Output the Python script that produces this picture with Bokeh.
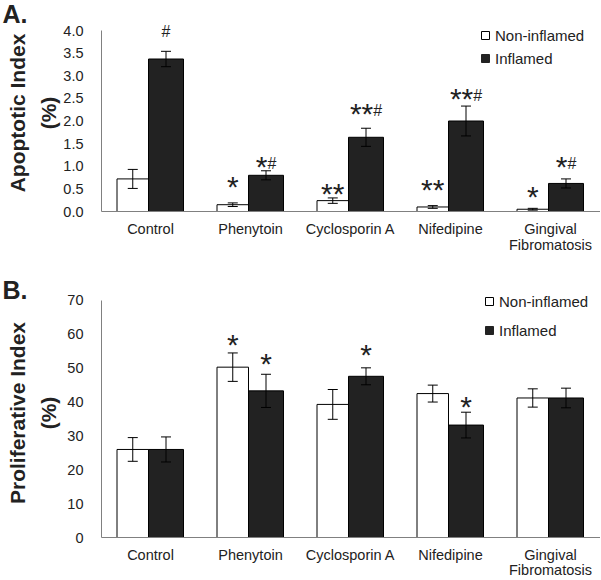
import numpy as np
from bokeh.plotting import figure
from bokeh.models import (Range1d, FixedTicker, Whisker, ColumnDataSource, Legend,
                          LegendItem, TeeHead, PrintfTickFormatter)
from bokeh.layouts import column
from bokeh.embed import file_html
from bokeh.resources import INLINE
from bokeh.core.properties import value

# ---------------- data ----------------
categories = ["Control", "Phenytoin", "Cyclosporin A", "Nifedipine", "Gingival\nFibromatosis"]
series = ["Non-inflamed", "Inflamed"]

# Panel A: apoptotic index (%)
apop_non = [0.72, 0.15, 0.24, 0.10, 0.05]
apop_non_err = [0.21, 0.04, 0.06, 0.03, 0.02]
apop_inf = [3.37, 0.80, 1.64, 2.00, 0.62]
apop_inf_err = [0.17, 0.10, 0.20, 0.33, 0.10]
apop_ticks = [0.0, 0.5, 1.0, 1.5, 2.0, 2.5, 3.0, 3.5, 4.0]
apop_sig_non = ["", "*", "**", "**", "*"]
apop_sig_non_y = [None, 0.62, 0.45, 0.55, 0.40]
apop_sig_inf = ["#", "*#", "**#", "**#", "*#"]
apop_sig_inf_y = [3.98, 1.06, 2.23, 2.56, 1.06]

# Panel B: proliferative index (%)
prolif_non = [26.0, 50.3, 39.3, 42.5, 41.2]
prolif_non_err = [3.5, 4.2, 4.4, 2.5, 2.7]
prolif_inf = [26.0, 43.3, 47.6, 33.2, 41.2]
prolif_inf_err = [3.7, 4.9, 2.5, 3.8, 2.9]
prolif_ticks = [0, 10, 20, 30, 40, 50, 60, 70]
prolif_sig_non = ["", "*", "", "", ""]
prolif_sig_non_y = [None, 57.8, None, None, None]
prolif_sig_inf = ["", "*", "*", "*", ""]
prolif_sig_inf_y = [None, 52.3, 54.8, 39.5, None]

# ---------------- style ----------------
FONT = "Liberation Sans"
DARK = "#222222"
TEXT = "#222222"
AXIS = "#808080"
STAR_SIZE = 30
HASH_SIZE = 16
STAR_ADV = 0.389 * STAR_SIZE
HASH_ADV = 0.556 * HASH_SIZE
STAR_DY = 0.09 * STAR_SIZE
HASH_DY = 0.0
FIG_W = 600
LEFT = 101
X_START = 0.01
X_END = X_START + (FIG_W - LEFT) / 100.0

idx = np.arange(len(categories)) + 0.5


def add_marks(p, xs, marks, ys):
    sx, sy, st, so = [], [], [], []
    hx, hy, ho = [], [], []
    for x, m, y in zip(xs, marks, ys):
        if not m:
            continue
        ns = m.count("*")
        hh = "#" in m
        w = ns * STAR_ADV + (HASH_ADV if hh else 0)
        if ns:
            sx.append(x); sy.append(y); st.append("*" * ns); so.append(-w / 2)
        if hh:
            hx.append(x); hy.append(y); ho.append(-w / 2 + ns * STAR_ADV)
    if sx:
        p.text(x="x", y="y", text="t", x_offset="xo", y_offset=STAR_DY,
               source=ColumnDataSource(dict(x=sx, y=sy, t=st, xo=so)),
               text_font=value(FONT), text_font_size=f"{STAR_SIZE}px",
               text_align="left", text_baseline="alphabetic", text_color=TEXT)
    if hx:
        p.text(x="x", y="y", text="t", x_offset="xo", y_offset=HASH_DY,
               source=ColumnDataSource(dict(x=hx, y=hy, t=["#"] * len(hx), xo=ho)),
               text_font=value(FONT), text_font_size=f"{HASH_SIZE}px",
               text_align="left", text_baseline="alphabetic", text_color=TEXT)


def make_panel(letter, ylabel, yticks, fmt, non, non_err, inf, inf_err,
               sig_non, sig_non_y, sig_inf, sig_inf_y,
               height, border_top, frame_h, axis_px, title_standoff, legend_loc,
               legend_spacing, legend_standoff, label_standoff, xlab_standoff, xlab_lh):
    ppu = axis_px / (yticks[-1] - yticks[0])
    y_end = yticks[0] + frame_h / ppu
    p = figure(width=FIG_W, height=height, output_backend="svg", toolbar_location=None,
               x_range=Range1d(X_START, X_END), y_range=Range1d(yticks[0], y_end),
               min_border_left=LEFT, min_border_right=0, min_border_top=border_top,
               min_border_bottom=height - border_top - frame_h)
    p.outline_line_color = None
    p.grid.visible = False

    # panel letter as the figure title
    p.title.text = letter
    p.title.align = "left"
    p.title.vertical_align = "bottom"
    p.title.offset = -(LEFT - 2)
    p.title.standoff = title_standoff
    p.title.text_font = FONT
    p.title.text_font_size = "25px"
    p.title.text_font_style = "bold"
    p.title.text_color = TEXT

    x_non = idx - 0.1775
    x_inf = idx + 0.155
    src_non = ColumnDataSource(dict(x=x_non, top=non, up=np.array(non) + np.array(non_err),
                                    lo=np.array(non) - np.array(non_err)))
    src_inf = ColumnDataSource(dict(x=x_inf, top=inf, up=np.array(inf) + np.array(inf_err),
                                    lo=np.array(inf) - np.array(inf_err)))
    p.vbar(x="x", top="top", bottom=0, width=0.315, source=src_non,
           fill_color="white", line_color="black", line_width=1)
    p.vbar(x="x", top="top", bottom=0, width=0.35, source=src_inf,
           fill_color=DARK, line_color="black", line_width=1)
    for src in (src_non, src_inf):
        w = Whisker(base="x", upper="up", lower="lo", source=src, dimension="height",
                    line_color="black", line_width=1, level="annotation",
                    upper_head=TeeHead(size=10, line_color="black", line_width=1),
                    lower_head=TeeHead(size=10, line_color="black", line_width=1))
        p.add_layout(w)

    add_marks(p, x_non, sig_non, sig_non_y)
    add_marks(p, x_inf, sig_inf, sig_inf_y)

    # axes
    p.xaxis.ticker = FixedTicker(ticks=list(idx))
    p.xaxis.major_label_overrides = {float(x): c for x, c in zip(idx, categories)}
    p.xaxis.major_tick_line_color = None
    p.xaxis.minor_tick_line_color = None
    p.xaxis.axis_line_color = AXIS
    p.xaxis.major_label_standoff = xlab_standoff
    p.xaxis.major_label_text_font = FONT
    p.xaxis.major_label_text_font_size = "14.5px"
    p.xaxis.major_label_text_color = TEXT
    p.xaxis.major_label_text_line_height = xlab_lh

    p.yaxis.ticker = FixedTicker(ticks=yticks)
    p.yaxis.bounds = (yticks[0], yticks[-1])
    p.yaxis.formatter = PrintfTickFormatter(format=fmt)
    p.yaxis.major_tick_line_color = None
    p.yaxis.minor_tick_line_color = None
    p.yaxis.axis_line_color = AXIS
    p.yaxis.major_label_standoff = 12
    p.yaxis.major_label_text_font = FONT
    p.yaxis.major_label_text_font_size = "14.5px"
    p.yaxis.major_label_text_color = TEXT
    p.yaxis.axis_label = ylabel
    p.yaxis.axis_label_text_font = FONT
    p.yaxis.axis_label_text_font_size = "21px"
    p.yaxis.axis_label_text_font_style = "bold"
    p.yaxis.axis_label_text_color = TEXT
    p.yaxis.axis_label_text_line_height = 1.35
    p.yaxis.axis_label_standoff = label_standoff

    # legend (proxies carry no visible data)
    r1 = p.scatter(x=[np.nan], y=[np.nan], marker="square", fill_color="white",
                   line_color="black", line_width=1)
    r2 = p.scatter(x=[np.nan], y=[np.nan], marker="square", fill_color=DARK,
                   line_color=DARK, line_width=1)
    leg = Legend(items=[LegendItem(label=series[0], renderers=[r1]),
                        LegendItem(label=series[1], renderers=[r2])],
                 location=legend_loc, glyph_width=20, glyph_height=20,
                 label_standoff=legend_standoff, spacing=legend_spacing,
                 padding=0, margin=0, border_line_color=None, background_fill_alpha=0,
                 label_text_font=FONT, label_text_font_size="15px", label_text_color=TEXT)
    p.add_layout(leg)
    return p


pa = make_panel("A.", "Apoptotic Index\n(%)", apop_ticks, "%.1f",
                apop_non, apop_non_err, apop_inf, apop_inf_err,
                apop_sig_non, apop_sig_non_y, apop_sig_inf, apop_sig_inf_y,
                height=262, border_top=14, frame_h=197, axis_px=181, title_standoff=-26,
                legend_loc=(374, 143), legend_spacing=3, legend_standoff=-7,
                label_standoff=0, xlab_standoff=3, xlab_lh=1.05)
pb = make_panel("B.", "Proliferative Index\n(%)", prolif_ticks, "%d",
                prolif_non, prolif_non_err, prolif_inf, prolif_inf_err,
                prolif_sig_non, prolif_sig_non_y, prolif_sig_inf, prolif_sig_inf_y,
                height=318, border_top=26, frame_h=250, axis_px=238, title_standoff=-30,
                legend_loc=(378, 197), legend_spacing=9, legend_standoff=0,
                label_standoff=4, xlab_standoff=3, xlab_lh=0.95)

layout = column(pa, pb, spacing=0)
open("out.html", "w").write(file_html(layout, INLINE))
